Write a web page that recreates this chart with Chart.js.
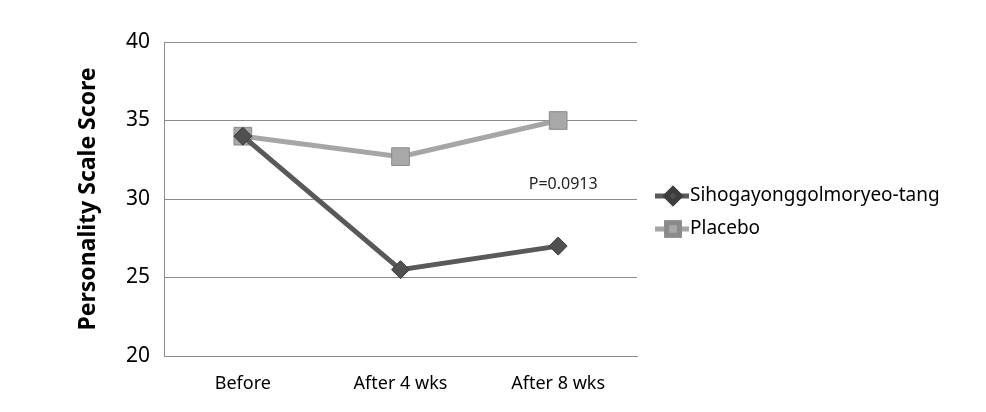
<!DOCTYPE html>
<html>
<head>
<meta charset="utf-8">
<script src="https://cdn.jsdelivr.net/npm/chart.js@4"></script>
<style>
  html, body { margin: 0; padding: 0; background: #fff; }
  #wrap { width: 986px; height: 412px; }
</style>
</head>
<body>
<div id="wrap"><canvas id="myChart" width="986" height="412"></canvas></div>
<script>
// data
const labels = ['Before', 'After 4 wks', 'After 8 wks'];
const sihoValues = [34.0, 25.5, 27.0];
const placeboValues = [34.0, 32.7, 35.0];
const seriesNames = ['Sihogayonggolmoryeo-tang', 'Placebo'];
const yTicks = [20, 25, 30, 35, 40];
const pNote = 'P=0.0913';

const FONT = "'Noto Sans', 'Open Sans', sans-serif";

// legend on the right, line + marker like the original
const sideLegend = {
  id: 'sideLegend',
  afterDraw(chart) {
    const ctx = chart.ctx;
    const x0 = 655, rows = [196, 229];
    chart.data.datasets.forEach((ds, i) => {
      const y = rows[i];
      ctx.save();
      ctx.strokeStyle = ds.borderColor;
      ctx.lineWidth = 5;
      ctx.beginPath();
      ctx.moveTo(x0, y);
      ctx.lineTo(x0 + 34, y);
      ctx.stroke();
      Chart.helpers.drawPoint(ctx, {
        pointStyle: ds.pointStyle,
        radius: ds.pointStyle === 'rect' ? 9 : 7,
        borderWidth: 1
      }, x0 + 18, y);
      ctx.fillStyle = ds.pointBackgroundColor;
      ctx.strokeStyle = ds.pointBorderColor;
      ctx.fill();
      ctx.stroke();
      ctx.fillStyle = '#000';
      ctx.font = '19px ' + FONT;
      ctx.textBaseline = 'middle';
      ctx.fillText(ds.label, x0 + 35, y);
      ctx.restore();
    });
  }
};

// p-value note
const noteText = {
  id: 'noteText',
  afterDatasetsDraw(chart) {
    const ctx = chart.ctx;
    const x = chart.scales.x.getPixelForValue(2);
    const y = chart.scales.y.getPixelForValue(30.9);
    ctx.save();
    ctx.fillStyle = '#222';
    ctx.font = '16px ' + FONT;
    ctx.textAlign = 'center';
    ctx.textBaseline = 'middle';
    ctx.fillText(pNote, x + 5, y);
    ctx.restore();
  }
};

const data = {
  labels: labels,
  datasets: [{
    label: seriesNames[0],
    data: sihoValues,
    borderColor: '#595959',
    borderWidth: 5,
    pointStyle: 'rectRot',
    pointRadius: 9,
    pointBackgroundColor: '#505050',
    pointBorderColor: '#3c3c3c',
    pointBorderWidth: 1,
    tension: 0
  }, {
    label: seriesNames[1],
    data: placeboValues,
    borderColor: '#a6a6a6',
    borderWidth: 5,
    pointStyle: 'rect',
    pointRadius: 12.5,
    pointBackgroundColor: '#a8a8a8',
    pointBorderColor: '#8a8a8a',
    pointBorderWidth: 1,
    tension: 0
  }]
};

const config = {
  type: 'line',
  data,
  options: {
    responsive: false,
    animation: false,
    layout: { padding: { left: 75, right: 349, top: 42, bottom: 0 } },
    scales: {
      x: {
        offset: true,
        grid: { display: false, drawTicks: false },
        border: { display: true, color: '#8c8c8c', width: 1 },
        ticks: { color: '#000', font: { family: FONT, size: 18 }, padding: 17, maxRotation: 0 },
        afterFit(scale) { scale.height = 56; }
      },
      y: {
        min: 20,
        max: 40,
        afterBuildTicks(scale) { scale.ticks = yTicks.map(v => ({ value: v })); },
        grid: { color: '#8c8c8c', lineWidth: 1, drawTicks: false },
        border: { display: true, color: '#8c8c8c', width: 1 },
        ticks: { color: '#000', font: { family: FONT, size: 21 }, padding: 14 },
        title: {
          display: true,
          text: 'Personality Scale Score',
          color: '#000',
          font: { family: FONT, size: 23, weight: 'bold' },
          padding: { top: 0, bottom: 0 }
        },
        afterFit(scale) { scale.width = 164 - 75; }
      }
    },
    plugins: {
      legend: { display: false },
      tooltip: { enabled: false }
    }
  },
  plugins: [sideLegend, noteText]
};

const myChart = new Chart(document.getElementById('myChart'), config);
</script>
</body>
</html>
